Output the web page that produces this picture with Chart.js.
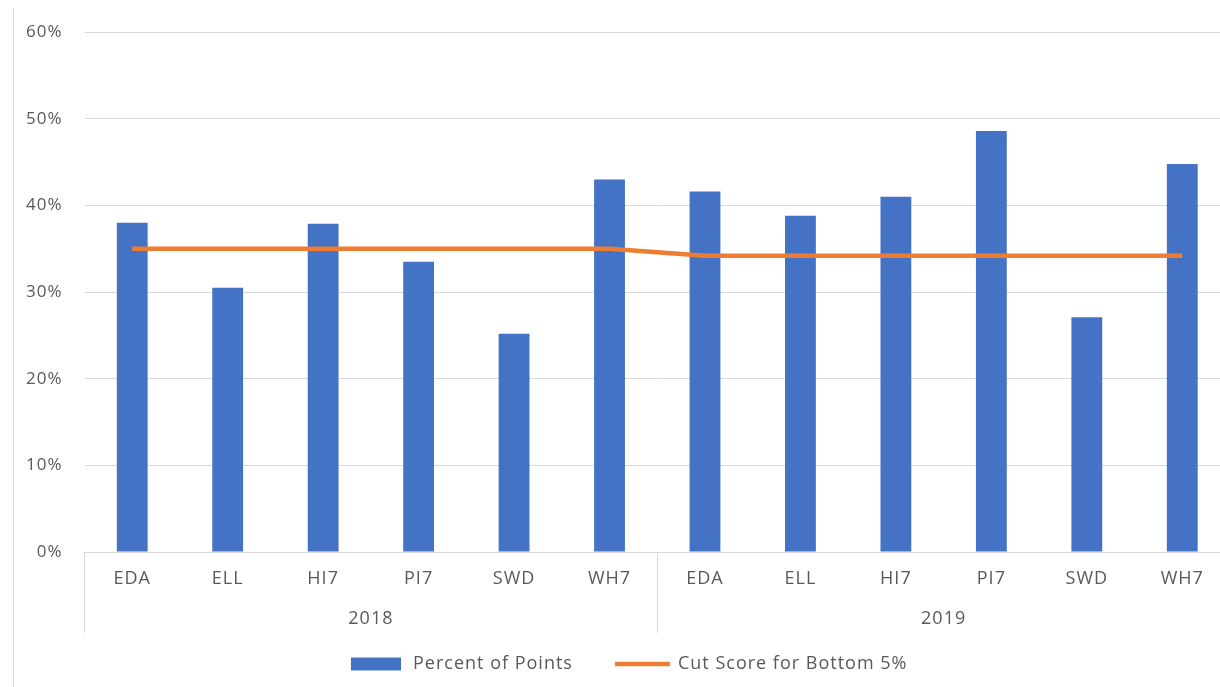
<!DOCTYPE html>
<html><head><meta charset="utf-8">
<script src="https://cdn.jsdelivr.net/npm/chart.js@4.4.0/dist/chart.umd.min.js"></script>
<style>
html,body{margin:0;padding:0;background:#fff;overflow:hidden;width:1220px;height:687px}
#wrap{position:absolute;left:0;top:0;width:1230px;height:687px}
</style></head>
<body><div id="wrap"><canvas id="c" width="1230" height="687"></canvas></div>
<script>
const years = ['2018', '2019'];
const subjects = ['EDA', 'ELL', 'HI7', 'PI7', 'SWD', 'WH7'];
const percentOfPoints2018 = [38.0, 30.5, 37.9, 33.5, 25.2, 43.0];
const percentOfPoints2019 = [41.6, 38.8, 41.0, 48.6, 27.1, 44.8];
const cutScore2018 = [35.0, 35.0, 35.0, 35.0, 35.0, 35.0];
const cutScore2019 = [34.2, 34.2, 34.2, 34.2, 34.2, 34.2];
const seriesNames = ['Percent of Points', 'Cut Score for Bottom 5%'];
const yMin = 0, yMax = 60, yStep = 10;

const labels = [...subjects, ...subjects];
const barData = [...percentOfPoints2018, ...percentOfPoints2019];
const lineData = [...cutScore2018, ...cutScore2019];

const BLUE = '#4472C4', ORANGE = '#ED7D31', GRID = '#d9d9d9', TXT = '#595959';
const FONT = '"Open Sans", "DejaVu Sans", sans-serif';

const extras = {
  id: 'extras',
  beforeDraw(chart) { chart.ctx.letterSpacing = '1px'; },
  afterDraw(chart) {
    const { ctx, chartArea: a, scales: { x } } = chart;
    ctx.save();
    ctx.letterSpacing = '1px';
    const half = (x.getPixelForValue(1) - x.getPixelForValue(0)) / 2;
    const n = subjects.length;
    // frame line at left
    ctx.strokeStyle = GRID; ctx.lineWidth = 1;
    ctx.beginPath(); ctx.moveTo(13.5, 8); ctx.lineTo(13.5, 687); ctx.stroke();
    // group separators
    for (let g = 0; g <= years.length; g++) {
      const px = Math.round(x.getPixelForValue(g * n) - half) + 0.5;
      ctx.beginPath(); ctx.moveTo(px, a.bottom); ctx.lineTo(px, 633); ctx.stroke();
    }
    // year labels
    ctx.fillStyle = TXT;
    ctx.font = '18px ' + FONT;
    ctx.textAlign = 'center'; ctx.textBaseline = 'middle';
    years.forEach((yr, g) => {
      const l = x.getPixelForValue(g * n) - half;
      const r = x.getPixelForValue(g * n + n - 1) + half;
      ctx.fillText(yr, (l + r) / 2, 619);
    });
    // legend
    ctx.textAlign = 'left';
    let lx = 351; const ly = 664;
    ctx.fillStyle = BLUE; ctx.fillRect(lx, ly - 6.5, 50, 13);
    lx += 62;
    ctx.fillStyle = TXT; ctx.fillText(seriesNames[0], lx, ly);
    lx += ctx.measureText(seriesNames[0]).width + 42;
    ctx.strokeStyle = ORANGE; ctx.lineWidth = 4.5; ctx.lineCap = 'butt';
    ctx.beginPath(); ctx.moveTo(lx, ly); ctx.lineTo(lx + 55, ly); ctx.stroke();
    lx += 63;
    ctx.fillStyle = TXT; ctx.fillText(seriesNames[1], lx, ly);
    ctx.restore();
  }
};

new Chart(document.getElementById('c'), {
  data: {
    labels,
    datasets: [
      { type: 'line', label: seriesNames[1], data: lineData, borderColor: ORANGE, backgroundColor: ORANGE,
        borderWidth: 4.5, pointRadius: 0, tension: 0, order: 0 },
      { type: 'bar', label: seriesNames[0], data: barData, backgroundColor: BLUE,
        barPercentage: 0.323, categoryPercentage: 1, order: 1 }
    ]
  },
  options: {
    responsive: false, animation: false,
    layout: { padding: { top: 29, left: 0, right: 0, bottom: 0 } },
    plugins: { legend: { display: false }, tooltip: { enabled: false } },
    scales: {
      x: {
        grid: { display: false, drawTicks: false }, border: { display: false },
        ticks: { color: TXT, font: { family: FONT, size: 18 }, padding: 16, maxRotation: 0, autoSkip: false },
        afterFit(s) { s.height = 135; }
      },
      y: {
        min: yMin, max: yMax,
        ticks: { stepSize: yStep, callback: v => v + '%', color: TXT, font: { family: FONT, size: 17 }, padding: 22 },
        grid: { color: GRID, drawTicks: false, lineWidth: 1 }, border: { display: false },
        afterFit(s) { s.width = 84.5; }
      }
    }
  },
  plugins: [extras]
});
</script>
</body></html>
